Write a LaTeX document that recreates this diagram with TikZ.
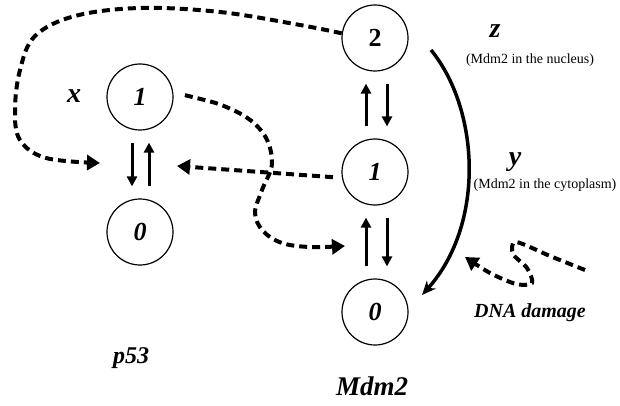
\documentclass[tikz,border=0pt]{standalone}
\usepackage{fontspec}
\setmainfont{Liberation Serif}
\usetikzlibrary{arrows.meta}

\begin{document}
\begin{tikzpicture}[x=1pt,y=-1pt,>=Stealth,
    state/.style={circle,draw,line width=1.2pt,minimum size=66pt,inner sep=0pt,
        font=\fontsize{26}{26}\selectfont\bfseries\itshape},
    flux/.style={line width=3pt,-{Triangle[length=10pt,width=10pt]},
        shorten <=12pt,shorten >=12pt},
    effect/.style={line width=4pt,dash pattern=on 8pt off 5pt,
        -{Triangle[length=13pt,width=15pt]}},
    varlab/.style={font=\fontsize{28}{28}\selectfont\bfseries\itshape},
    note/.style={font=\fontsize{14}{14}\selectfont}]

    \useasboundingbox (0,0) rectangle (620,406);

    % p53 states
    \node [state] (p1) at (140,97) {1};
    \node [state] (p0) at (140,232) {0};
    \draw [flux] ([xshift=-8pt]p1.south) -- ([xshift=-8pt]p0.north);
    \draw [flux] ([xshift=9pt]p0.north) -- ([xshift=9pt]p1.south);

    % Mdm2 states
    \node [state] (m2) at (375,38) {\upshape 2};
    \node [state] (m1) at (375,172) {1};
    \node [state] (m0) at (375,312) {0};
    \draw [flux] ([xshift=-9pt]m1.north) -- ([xshift=-9pt]m2.south);
    \draw [flux] ([xshift=12pt]m2.south) -- ([xshift=12pt]m1.north);
    \draw [flux] ([xshift=-9pt]m0.north) -- ([xshift=-9pt]m1.south);
    \draw [flux] ([xshift=12pt]m1.south) -- ([xshift=12pt]m0.north);

    % Export from nucleus
    \coordinate (zout) at (431,50);
    \coordinate (zin) at (422,295);
    \draw [line width=3.5pt,-{Stealth[length=14pt,width=12pt]}]
        (zout) .. controls (480,110) and (485,225) .. (zin);

    % Feedback loops
    \coordinate (ptip) at (100,163);
    \coordinate (qtip) at (177,166);
    \coordinate (mtip) at (345,246);
    \draw [effect] plot [smooth,tension=0.6] coordinates {(m2.172) (300,25) (220,12)
        (140,8) (75,16) (35,36) (20,70) (15,110) (20,140) (46,158) (ptip)};
    \draw [effect,shorten <=9pt] (m1.190) -- (qtip);
    \draw [effect,shorten <=12pt] plot [smooth,tension=0.6] coordinates {(p1.8) (233,110)
        (263,133) (272,163) (262,190) (255,213) (263,231) (282,243) (310,247) (mtip)};

    % DNA damage signal
    \coordinate (dna) at (585,270);
    \coordinate (dtip) at (465,257);
    \draw [effect] plot [smooth,tension=0.5] coordinates {(dna) (550,256) (516,242)
        (513,254) (527,268) (532,283) (516,284) (490,273) (dtip)};

    % Labels
    \node [varlab] (xl) at (74,96) {x};
    \node [varlab] (zl) at (495,31) {z};
    \node [varlab] (yl) at (515,162) {y};
    \node [note] (zn) at (530,60) {(Mdm2 in the nucleus)};
    \node [note] (yn) at (545,185) {(Mdm2 in the cytoplasm)};
    \node [font=\fontsize{20}{20}\selectfont\bfseries\itshape] (dl) at (530,313) {DNA damage};
    \node [font=\fontsize{24}{24}\selectfont\bfseries\itshape] (pl) at (131,358) {p53};
    \node [font=\fontsize{27}{27}\selectfont\bfseries\itshape] (ml) at (372,386) {Mdm2};

\end{tikzpicture}
\end{document}
